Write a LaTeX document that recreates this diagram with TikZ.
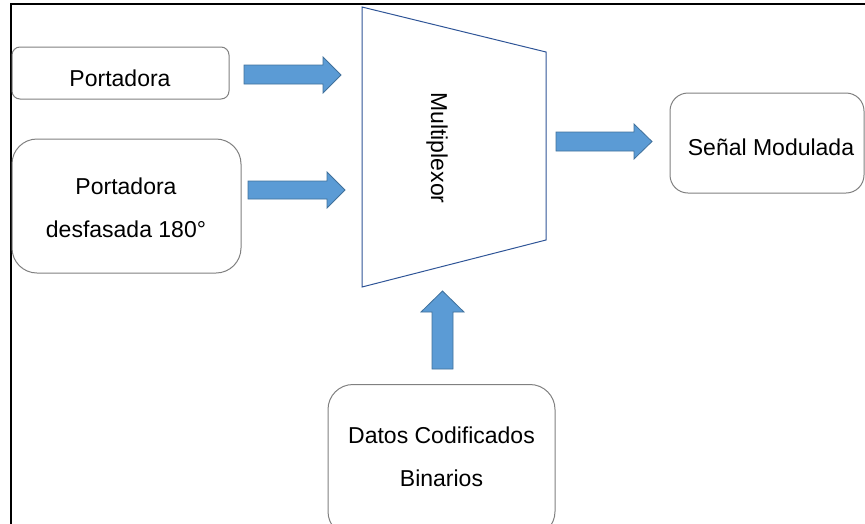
\documentclass[tikz,border=0pt]{standalone}
\usepackage{fontspec}
\setmainfont{Liberation Sans}
\begin{document}
\begin{tikzpicture}[x=1pt,y=-1pt,
  box/.style={draw=black!50,line width=1pt,rounded corners=#1,inner sep=0pt},
  txt/.style={inner sep=0pt,align=center,font=\fontsize{23}{43}\selectfont},
  barrow/.style={draw=arrowline,fill=arrowfill,line width=0.8pt},
]
\definecolor{arrowfill}{HTML}{5B9BD5}
\definecolor{arrowline}{HTML}{41719C}
\definecolor{muxline}{HTML}{2F5597}
\useasboundingbox (0,0) rectangle (865,523);
\clip (0,0) rectangle (865,523);
% frame
\draw[line width=2pt] (11,530) -- (11,4) -- (870,4);
% boxes
\node[box=8pt,minimum width=217pt,minimum height=52pt] (port) at (120.5,73) {};
\node[txt] (porttxt) at (120,78) {Portadora};
\node[box=25pt,minimum width=229pt,minimum height=134pt] (desf) at (126.5,206) {};
\node[txt] (desftxt) at (126,208) {Portadora\\desfasada 180°};
\node[box=18pt,minimum width=194pt,minimum height=100pt] (senal) at (767,143) {};
\node[txt] (senaltxt) at (771,147) {Señal Modulada};
\node[box=25pt,minimum width=227pt,minimum height=152pt,anchor=north] (datos) at (441.5,384) {};
\node[txt] (datostxt) at (441.5,457) {Datos Codificados\\Binarios};
% multiplexor
\coordinate (m1) at (362,7);
\coordinate (m2) at (546,52);
\coordinate (m3) at (546,240);
\coordinate (m4) at (362,287);
\draw[muxline,line width=1pt] (m1) -- (m2) -- (m3) -- (m4) -- cycle;
\node[rotate=-90,font=\fontsize{23}{25}\selectfont] (mux) at (437,148) {Multiplexor};
% block arrows
\draw[barrow] (244,65) -- (323,65) -- (323,57) -- (341,75) -- (323,93) -- (323,84) -- (244,84) -- cycle;
\draw[barrow] (248,181) -- (327,181) -- (327,172) -- (345,190) -- (327,208) -- (327,199) -- (248,199) -- cycle;
\draw[barrow] (556,132) -- (634,132) -- (634,124) -- (652,141.5) -- (634,159) -- (634,151) -- (556,151) -- cycle;
\draw[barrow] (432,369) -- (432,312) -- (421,312) -- (442.5,291) -- (464,312) -- (453,312) -- (453,369) -- cycle;
\end{tikzpicture}
\end{document}
